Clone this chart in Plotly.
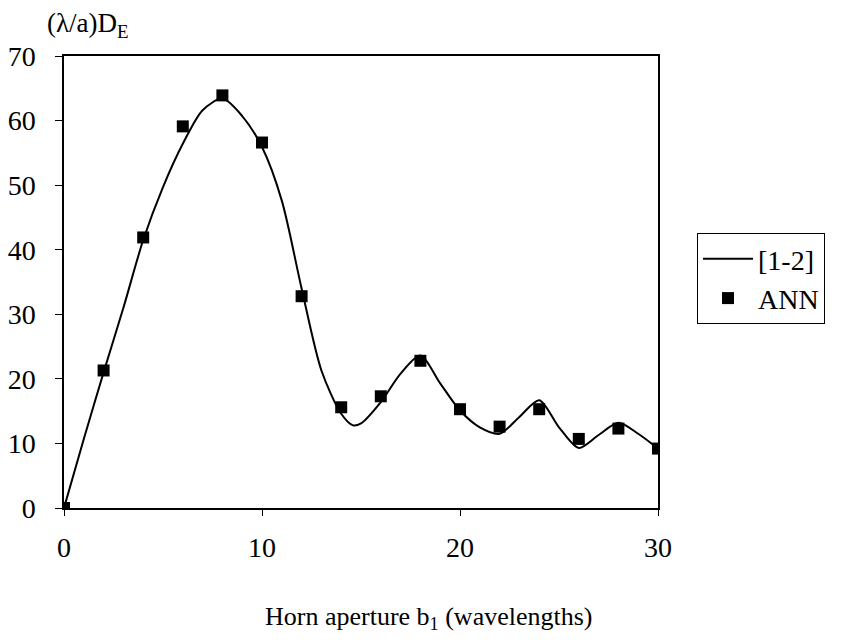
import plotly.graph_objects as go

# Reference curve [1-2]
curve_x = [0, 1, 2, 3, 4, 5, 6, 7, 8, 9, 10, 11, 12, 13, 14, 14.6, 15, 16, 17, 18, 19, 20, 21, 22, 23, 24, 25, 26, 27, 28, 29, 30]
curve_y = [0, 10.7, 21, 31, 41.5, 49.7, 56.4, 61.6, 63.4, 60.7, 55.9, 47.6, 34.0, 21.3, 14.6, 12.8, 13.1, 16.4, 20.8, 23.6, 19.3, 15.1, 12.5, 11.5, 14.1, 16.7, 12.5, 9.3, 11.3, 13.2, 11.5, 9.2]

# ANN points
ann_x = [0, 2, 4, 6, 8, 10, 12, 14, 16, 18, 20, 22, 24, 26, 28, 30]
ann_y = [0, 21.3, 41.9, 59.1, 63.9, 56.6, 32.8, 15.6, 17.3, 22.8, 15.3, 12.6, 15.3, 10.7, 12.3, 9.2]

x_ticks = [0, 10, 20, 30]
y_ticks = [0, 10, 20, 30, 40, 50, 60, 70]

FONT = "Liberation Serif"
OFF = 8  # page body margin
W, H = 842 - OFF, 644 - OFF
# target plot area in screen pixels
X0, X1, Y0, Y1 = 64, 658, 56, 508
L, R, T, B = X0 - OFF, W - (X1 - OFF), Y0 - OFF, H - (Y1 - OFF)
pw = W - L - R
ph = H - T - B

def px(x):
    return (x - OFF - L) / pw

def py(y):
    return (H - B - (y - OFF)) / ph

fig = go.Figure()
fig.add_trace(go.Scatter(x=curve_x, y=curve_y, mode="lines", name="[1-2]",
                         line=dict(color="black", width=2, shape="spline", smoothing=0.8)))
fig.add_trace(go.Scatter(x=ann_x, y=ann_y, mode="markers", name="ANN",
                         marker=dict(symbol="square", size=12, color="black")))

fig.update_layout(
    width=W, height=H,
    margin=dict(l=L, r=R, t=T, b=B, autoexpand=False),
    paper_bgcolor="white", plot_bgcolor="white",
    font=dict(family=FONT, color="black", size=24),
    showlegend=True,
    legend=dict(x=px(697), y=py(233), xanchor="left", yanchor="top",
                bordercolor="black", borderwidth=1, bgcolor="white",
                font=dict(family=FONT, size=28), itemwidth=50),
    xaxis=dict(range=[0, 30], tickvals=x_ticks, showgrid=False, zeroline=False,
               showline=True, linecolor="black", linewidth=1.5, mirror=True,
               ticks="outside", ticklen=6, tickcolor="black", ticklabelstandoff=8,
               tickfont=dict(family=FONT, size=28)),
    yaxis=dict(range=[0, 70], tickvals=y_ticks, showgrid=False, zeroline=False,
               showline=True, linecolor="black", linewidth=1.5, mirror=True,
               ticks="outside", ticklen=7, tickcolor="black", ticklabelstandoff=14,
               tickfont=dict(family=FONT, size=28)),
    annotations=[
        dict(text="(λ/a)D<sub>E</sub>", x=px(45), y=py(25), xref="paper", yref="paper",
             xanchor="left", yanchor="middle", showarrow=False,
             font=dict(family=FONT, size=27)),
        dict(text="Horn aperture b<sub>1</sub> (wavelengths)", x=px(428), y=py(618),
             xref="paper", yref="paper", xanchor="center", yanchor="middle",
             showarrow=False, font=dict(family=FONT, size=26)),
    ],
)

fig.write_html("out.html")
